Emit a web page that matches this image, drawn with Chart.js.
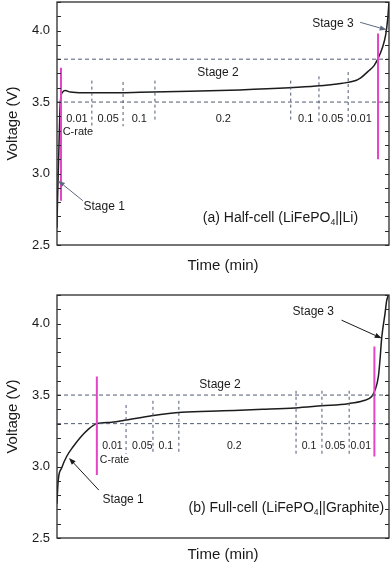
<!DOCTYPE html>
<html>
<head>
<meta charset="utf-8">
<script src="https://cdn.jsdelivr.net/npm/chart.js@4.4.1/dist/chart.umd.min.js"></script>
<style>
html, body { margin: 0; padding: 0; background: #fff; }
#wrap { position: relative; width: 392px; height: 565px; }
canvas { position: absolute; left: 0; }
#chartA { top: 0; }
#chartB { top: 282px; }
</style>
</head>
<body>
<div id="wrap">
  <canvas id="chartA" width="392" height="282"></canvas>
  <canvas id="chartB" width="392" height="283"></canvas>
</div>
<script>
// time axis is unitless (0..100), no tick labels in the original
const yTickLabels = [2.5, 3.0, 3.5, 4.0];
const rateLabels = ['0.01', '0.05', '0.1', '0.2', '0.1', '0.05', '0.01'];

// (a) half-cell
const timeA = [0, 0.1, 0.3, 0.6, 0.9, 1.2, 1.7, 2.5, 4, 8, 15, 25, 40, 55, 70, 78, 86, 89.2, 91.5, 93.7, 95.5, 96.6, 98, 99, 99.6, 100];
const voltA = [2.62, 2.75, 2.93, 3.2, 3.46, 3.54, 3.57, 3.58, 3.57, 3.565, 3.565, 3.568, 3.575, 3.585, 3.6, 3.612, 3.632, 3.645, 3.67, 3.715, 3.755, 3.8, 3.88, 3.97, 4.08, 4.2];
const hLinesA = [3.5, 3.8];
const divXA = [10.5, 19.9, 29.5, 70.4, 78.9, 87.7];
const divTopA = [3.65, 3.64, 3.65, 3.65, 3.68, 3.71];
const divBotA = [3.32, 3.33, 3.36, 3.36, 3.36, 3.36];
const magXA = [1.2, 96.7];
const magTopA = [3.74, 3.98];
const magBotA = [2.81, 3.1];
const rateXA = [6.0, 15.4, 24.8, 50.1, 74.9, 83.0, 91.6];

// (b) full-cell
const timeB = [0, 0.1, 0.4, 1.4, 2.9, 4.9, 6.9, 9.4, 12, 16.5, 20.8, 28.5, 37.6, 50, 62, 71.7, 79.7, 87.7, 92.2, 94.8, 95.8, 96.8, 97.3, 97.8, 98.8, 99.3, 99.8];
const voltB = [2.74, 2.8, 2.91, 2.99, 3.07, 3.14, 3.2, 3.26, 3.3, 3.31, 3.325, 3.355, 3.38, 3.39, 3.4, 3.41, 3.425, 3.44, 3.46, 3.49, 3.535, 3.63, 3.75, 3.9, 4.07, 4.16, 4.2];
const hLinesB = [3.3, 3.5];
const divXB = [20.8, 28.9, 36.7, 72, 79.8, 88];
const divTopB = [3.43, 3.46, 3.46, 3.53, 3.53, 3.53];
const divBotB = [3.09, 3.09, 3.09, 3.08, 3.08, 3.08];
const magXB = [12, 95.6];
const magTopB = [3.63, 3.84];
const magBotB = [2.94, 3.07];
const rateXB = [16.7, 25.7, 32.8, 53.4, 75.9, 83.8, 91.5];

const FONT = '"Liberation Sans", Arial, Helvetica, sans-serif';
const DASH_COLOR = '#4f5a72';
const MAGENTA = '#e245c6';

const segment = function (pts, color, width, dash) {
    return {
        data: pts,
        borderColor: color,
        borderWidth: width,
        borderDash: dash,
        pointRadius: 0,
        fill: false
    };
};

const drawRich = function (ctx, parts, cx, cy, size) {
    let total = 0;
    parts.forEach(p => {
        ctx.font = (p[1] ? size * 0.62 : size) + 'px ' + FONT;
        total += ctx.measureText(p[0]).width;
    });
    let x = cx - total / 2;
    ctx.textBaseline = 'middle';
    ctx.textAlign = 'left';
    parts.forEach(p => {
        ctx.font = (p[1] ? size * 0.62 : size) + 'px ' + FONT;
        ctx.fillText(p[0], x, p[1] ? cy + size * 0.35 : cy);
        x += ctx.measureText(p[0]).width;
    });
};

const drawArrow = function (ctx, x1, y1, x2, y2, color) {
    const a = Math.atan2(y2 - y1, x2 - x1);
    const hl = 7, hw = 2.6;
    ctx.strokeStyle = color;
    ctx.fillStyle = color;
    ctx.lineWidth = 1;
    ctx.beginPath();
    ctx.moveTo(x1, y1);
    ctx.lineTo(x2 - hl * Math.cos(a), y2 - hl * Math.sin(a));
    ctx.stroke();
    ctx.beginPath();
    ctx.moveTo(x2, y2);
    ctx.lineTo(x2 - hl * Math.cos(a) + hw * Math.sin(a), y2 - hl * Math.sin(a) - hw * Math.cos(a));
    ctx.lineTo(x2 - hl * Math.cos(a) - hw * Math.sin(a), y2 - hl * Math.sin(a) + hw * Math.cos(a));
    ctx.closePath();
    ctx.fill();
};

const decor = {
    id: 'decor',
    afterDatasetsDraw(chart) {
        const p = chart.options.plugins.decor;
        const ctx = chart.ctx;
        const xs = chart.scales.x, ys = chart.scales.y;
        const area = chart.chartArea;
        ctx.save();
        // frame
        ctx.strokeStyle = '#2b2b2b';
        ctx.lineWidth = 1.3;
        ctx.strokeRect(area.left, area.top, area.right - area.left, area.bottom - area.top);
        // inward ticks, both sides
        ctx.lineWidth = 1;
        for (let i = 25; i <= 42; i++) {
            const py = Math.round(ys.getPixelForValue(i / 10)) + 0.5;
            ctx.beginPath();
            ctx.moveTo(area.left, py); ctx.lineTo(area.left + 4, py);
            ctx.moveTo(area.right, py); ctx.lineTo(area.right - 4, py);
            ctx.stroke();
        }
        // C-rate labels
        ctx.fillStyle = '#1a1a1a';
        rateLabels.forEach((t, i) => {
            drawRich(ctx, [[t]], xs.getPixelForValue(p.rateX[i]), ys.getPixelForValue(p.rateY), p.rateSize);
        });
        p.notes.forEach(n => {
            drawRich(ctx, n.parts, xs.getPixelForValue(n.x), ys.getPixelForValue(n.y), n.size);
        });
        p.arrows.forEach(a => {
            drawArrow(ctx, xs.getPixelForValue(a[0]), ys.getPixelForValue(a[1]),
                xs.getPixelForValue(a[2]), ys.getPixelForValue(a[3]), p.arrowColor);
        });
        ctx.restore();
    }
};

const makeChart = function (id, d) {
    const datasets = [];
    d.hLines.forEach(v => datasets.push(segment([{x: 0, y: v}, {x: 100, y: v}], DASH_COLOR, 1, [4, 3])));
    d.divX.forEach((x, i) => datasets.push(segment([{x: x, y: d.divTop[i]}, {x: x, y: d.divBot[i]}], DASH_COLOR, 1, [3, 3])));
    d.magX.forEach((x, i) => datasets.push(segment([{x: x, y: d.magTop[i]}, {x: x, y: d.magBot[i]}], MAGENTA, 2, [])));
    const curve = segment(d.time.map((t, i) => ({x: t, y: d.volt[i]})), '#1c1c1c', 1.5, []);
    curve.cubicInterpolationMode = 'monotone';
    datasets.push(curve);

    return new Chart(document.getElementById(id), {
        type: 'line',
        data: {datasets: datasets},
        plugins: [decor],
        options: {
            responsive: false,
            animation: false,
            events: [],
            layout: {autoPadding: false, padding: {top: d.padTop, right: 3, left: 0, bottom: 0}},
            plugins: {
                legend: {display: false},
                tooltip: {enabled: false},
                decor: d.decor
            },
            scales: {
                x: {
                    type: 'linear',
                    min: 0,
                    max: 100,
                    grid: {display: false, drawTicks: false},
                    border: {display: false},
                    ticks: {display: false},
                    title: {
                        display: true,
                        text: 'Time (min)',
                        color: '#1a1a1a',
                        font: {family: FONT, size: 15},
                        padding: {top: 0, bottom: d.titlePad}
                    },
                    afterFit: function (s) {
                        s.height = d.xHeight;
                        s.paddingLeft = 0; s.paddingRight = 0;
                    }
                },
                y: {
                    min: 2.5,
                    max: 4.2,
                    grid: {display: false, drawTicks: false},
                    border: {display: false},
                    ticks: {
                        stepSize: 0.1,
                        autoSkip: false,
                        padding: 7,
                        color: '#1a1a1a',
                        font: {family: FONT, size: 13},
                        callback: function (v) {
                            const hit = yTickLabels.find(t => Math.abs(t - v) < 1e-6);
                            return hit !== undefined ? hit.toFixed(1) : '';
                        }
                    },
                    title: {
                        display: true,
                        text: 'Voltage (V)',
                        color: '#1a1a1a',
                        font: {family: FONT, size: 15},
                        padding: {top: 4, bottom: 0}
                    },
                    afterFit: function (s) {
                        s.width = 57;
                        s.paddingTop = 0; s.paddingBottom = 0;
                    }
                }
            }
        }
    });
};

makeChart('chartA', {
    time: timeA, volt: voltA, hLines: hLinesA,
    divX: divXA, divTop: divTopA, divBot: divBotA,
    magX: magXA, magTop: magTopA, magBot: magBotA,
    padTop: 2, xHeight: 37, titlePad: 7,
    decor: {
        rateX: rateXA, rateY: 3.38, rateSize: 11,
        arrowColor: '#5d6a80',
        notes: [
            {parts: [['C-rate']], x: 6.3, y: 3.29, size: 11},
            {parts: [['Stage 1']], x: 14.2, y: 2.771, size: 12},
            {parts: [['Stage 2']], x: 48.5, y: 3.708, size: 12},
            {parts: [['Stage 3']], x: 83.1, y: 4.049, size: 12},
            {parts: [['(a) Half-cell (LiFePO'], ['4', true], ['||Li)']], x: 67.3, y: 2.69, size: 14}
        ],
        arrows: [
            [7.8, 2.81, 0.3, 2.95],
            [91.3, 4.058, 99.3, 4.005]
        ]
    }
});

makeChart('chartB', {
    time: timeB, volt: voltB, hLines: hLinesB,
    divX: divXB, divTop: divTopB, divBot: divBotB,
    magX: magXB, magTop: magTopB, magBot: magBotB,
    padTop: 13, xHeight: 27, titlePad: 1,
    decor: {
        rateX: rateXB, rateY: 3.145, rateSize: 10.5,
        arrowColor: '#1a1a1a',
        notes: [
            {parts: [['C-rate']], x: 17.3, y: 3.045, size: 10.5},
            {parts: [['Stage 1']], x: 19.9, y: 2.77, size: 12},
            {parts: [['Stage 2']], x: 49.1, y: 3.57, size: 12},
            {parts: [['Stage 3']], x: 77.2, y: 4.083, size: 12},
            {parts: [['(b) Full-cell (LiFePO'], ['4', true], ['||Graphite)']], x: 69.1, y: 2.71, size: 14}
        ],
        arrows: [
            [12.6, 2.835, 3.6, 3.06],
            [85.7, 4.024, 97.8, 3.897]
        ]
    }
});
</script>
</body>
</html>
